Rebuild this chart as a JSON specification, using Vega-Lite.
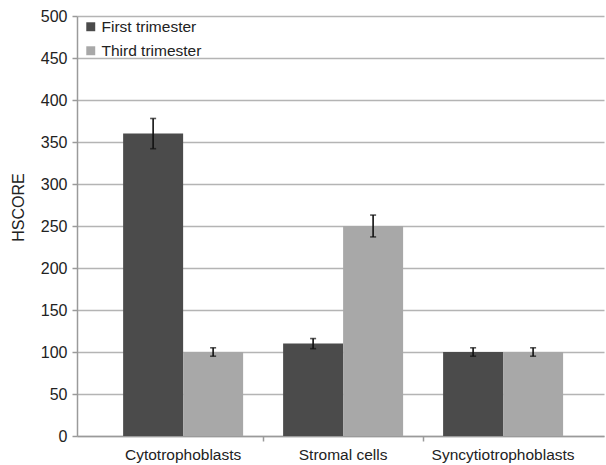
{
  "$schema": "https://vega.github.io/schema/vega-lite/v6.json",
  "autosize": {"type": "none"},
  "padding": {"left": 77, "top": 16, "right": 2, "bottom": 29},
  "width": 527,
  "height": 420,
  "background": "white",
  "config": {
    "font": "Liberation Sans",
    "view": {"stroke": null}
  },
  "data": {
    "values": [
      {"cell": "Cytotrophoblasts", "trimester": "First trimester", "value": 360, "lo": 342, "hi": 378},
      {"cell": "Cytotrophoblasts", "trimester": "Third trimester", "value": 100, "lo": 95, "hi": 105},
      {"cell": "Stromal cells", "trimester": "First trimester", "value": 110, "lo": 104, "hi": 116},
      {"cell": "Stromal cells", "trimester": "Third trimester", "value": 250, "lo": 237, "hi": 263},
      {"cell": "Syncytiotrophoblasts", "trimester": "First trimester", "value": 100, "lo": 95, "hi": 105},
      {"cell": "Syncytiotrophoblasts", "trimester": "Third trimester", "value": 100, "lo": 95, "hi": 105}
    ]
  },
  "encoding": {
    "x": {
      "field": "cell",
      "type": "nominal",
      "sort": null,
      "scale": {"paddingInner": 0.25, "paddingOuter": 0.272, "align": 0.53},
      "axis": {
        "title": null,
        "labelAngle": 0,
        "labelFontSize": 15.5,
        "labelColor": "#222",
        "labelPadding": 6,
        "domainColor": "#9a9a9a",
        "domainWidth": 1.5,
        "tickColor": "#9a9a9a",
        "tickSize": 5,
        "tickWidth": 1.5,
        "tickOpacity": {"condition": {"test": "datum.value === 'Cytotrophoblasts'", "value": 0}, "value": 1},
        "bandPosition": -0.1667
      }
    },
    "xOffset": {
      "field": "trimester",
      "type": "nominal",
      "scale": {"paddingInner": 0, "paddingOuter": 0}
    }
  },
  "layer": [
    {
      "mark": {"type": "bar"},
      "encoding": {
        "y": {
          "field": "value",
          "type": "quantitative",
          "scale": {"domain": [0, 500], "nice": false},
          "axis": {
            "title": "HSCORE",
            "titleFontSize": 16,
            "titleFontWeight": "normal",
            "titleColor": "#222",
            "titleAngle": -90,
            "titleX": -59,
            "titleY": 191,
            "titleAlign": "center",
            "titleBaseline": "middle",
            "values": [0, 50, 100, 150, 200, 250, 300, 350, 400, 450, 500],
            "labelFontSize": 16,
            "labelColor": "#222",
            "labelPadding": 5,
            "tickSize": 5,
            "tickColor": "#9a9a9a",
            "tickWidth": 1.5,
            "domainColor": "#9a9a9a",
            "domainWidth": 1.5,
            "grid": true,
            "gridColor": "#b4b4b4",
            "gridWidth": 1.5
          }
        },
        "color": {
          "field": "trimester",
          "type": "nominal",
          "scale": {"domain": ["First trimester", "Third trimester"], "range": ["#4b4b4b", "#a8a8a8"]},
          "legend": {
            "title": null,
            "orient": "none",
            "legendX": 6,
            "legendY": 3,
            "padding": 0,
            "symbolType": "square",
            "symbolSize": 80,
            "symbolStrokeWidth": 0,
            "labelFontSize": 15.5,
            "labelColor": "#222",
            "labelOffset": 3,
            "rowPadding": 7
          }
        }
      }
    },
    {
      "mark": {"type": "rule", "color": "#111", "strokeWidth": 1.6},
      "encoding": {
        "y": {"field": "lo", "type": "quantitative"},
        "y2": {"field": "hi"}
      }
    },
    {
      "mark": {"type": "tick", "color": "#111", "thickness": 1.6, "size": 6, "orient": "horizontal"},
      "encoding": {
        "y": {"field": "lo", "type": "quantitative"}
      }
    },
    {
      "mark": {"type": "tick", "color": "#111", "thickness": 1.6, "size": 6, "orient": "horizontal"},
      "encoding": {
        "y": {"field": "hi", "type": "quantitative"}
      }
    }
  ]
}
